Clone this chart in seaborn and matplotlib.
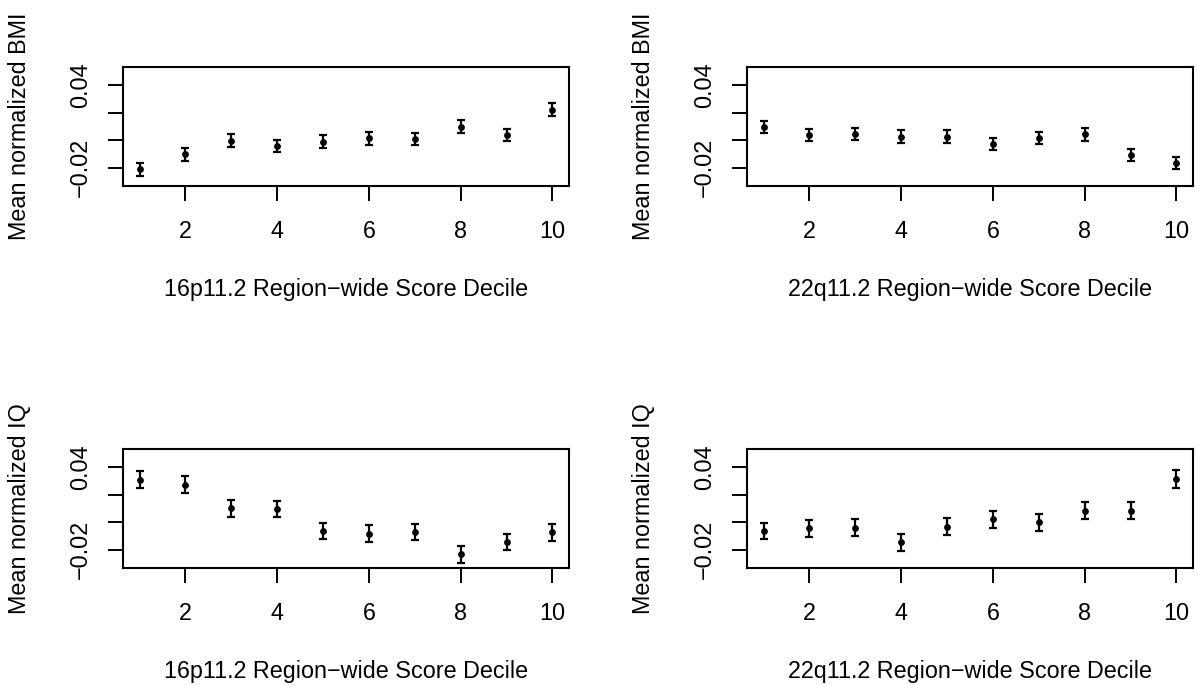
import matplotlib
matplotlib.use("Agg")
import matplotlib.pyplot as plt
import seaborn as sns
import pandas as pd

# decile means and standard errors
deciles = [1, 2, 3, 4, 5, 6, 7, 8, 9, 10]

bmi_16p = [-0.0212, -0.0103, -0.0002, -0.0043, -0.0009, 0.0013, 0.0011, 0.0098, 0.0040, 0.0223]
bmi_16p_se = [0.0044, 0.0045, 0.0045, 0.0045, 0.0045, 0.0045, 0.0045, 0.0046, 0.0045, 0.0046]

bmi_22q = [0.0095, 0.0040, 0.0044, 0.0027, 0.0027, -0.0029, 0.0015, 0.0042, -0.0106, -0.0164]
bmi_22q_se = [0.0045, 0.0045, 0.0045, 0.0045, 0.0045, 0.0045, 0.0045, 0.0045, 0.0045, 0.0045]

iq_16p = [0.0309, 0.0273, 0.0101, 0.0096, -0.0063, -0.0082, -0.0070, -0.0233, -0.0143, -0.0074]
iq_16p_se = [0.0061, 0.0061, 0.0061, 0.0061, 0.0061, 0.0061, 0.0061, 0.0063, 0.0061, 0.0061]

iq_22q = [-0.0063, -0.0043, -0.0038, -0.0145, -0.0031, 0.0023, 0.0000, 0.0083, 0.0083, 0.0315]
iq_22q_se = [0.0061, 0.0061, 0.0061, 0.0061, 0.0061, 0.0061, 0.0061, 0.0061, 0.0061, 0.0063]

x_ticks = [2, 4, 6, 8, 10]
y_ticks = [-0.02, 0.0, 0.02, 0.04]
y_tick_labels = ["\u22120.02", "", "", "0.04"]

panels = [
    (bmi_16p, bmi_16p_se, "16p11.2 Region\u2212wide Score Decile", "Mean normalized BMI"),
    (bmi_22q, bmi_22q_se, "22q11.2 Region\u2212wide Score Decile", "Mean normalized BMI"),
    (iq_16p, iq_16p_se, "16p11.2 Region\u2212wide Score Decile", "Mean normalized IQ"),
    (iq_22q, iq_22q_se, "22q11.2 Region\u2212wide Score Decile", "Mean normalized IQ"),
]

sns.set_style("ticks")
plt.rcParams["font.family"] = ["Liberation Sans", "DejaVu Sans"]
plt.rcParams["text.color"] = "black"
plt.rcParams["axes.labelcolor"] = "black"

W, H = 1197, 685
fig = plt.figure(figsize=(W / 100, H / 100), dpi=100)

# axes boxes in pixels: left, top, right, bottom
boxes = [(123, 67, 569, 186), (747, 67, 1193, 186),
         (123, 449, 569, 568), (747, 449, 1193, 568)]

for (vals, se, xlab, ylab), (l, t, r, b) in zip(panels, boxes):
    ax = fig.add_axes([l / W, 1 - b / H, (r - l) / W, (b - t) / H])
    df = pd.DataFrame({"decile": deciles, "value": vals, "se": se})
    ax.errorbar(df["decile"], df["value"], yerr=df["se"], fmt="none",
                ecolor="black", elinewidth=1.6, capsize=3, capthick=1.6)
    sns.scatterplot(data=df, x="decile", y="value", ax=ax, color="black",
                    s=24, edgecolor="black", linewidth=0, zorder=3)

    ax.set_xlim(0.64, 10.36)
    ax.set_ylim(-0.0332, 0.0532)
    ax.set_xticks(x_ticks)
    ax.set_xticklabels([str(v) for v in x_ticks])
    ax.set_yticks(y_ticks)
    ax.set_yticklabels(y_tick_labels, rotation=90, va="center")

    ax.tick_params(axis="both", direction="out", length=10.5, width=1.4,
                   color="black", labelsize=16.8, labelcolor="black")
    ax.tick_params(axis="x", pad=14)
    ax.tick_params(axis="y", pad=12)
    for sp in ax.spines.values():
        sp.set_visible(True)
        sp.set_linewidth(1.5)
        sp.set_color("black")

    ax.set_xlabel(xlab, fontsize=16.8, labelpad=25, color="black")
    ax.set_ylabel(ylab, fontsize=16.8, labelpad=27, color="black")

fig.savefig("out.png", dpi=100, facecolor="white")
